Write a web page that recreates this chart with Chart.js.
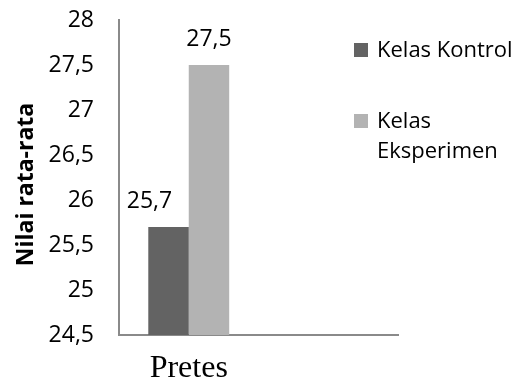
<!DOCTYPE html>
<html>
<head>
<meta charset="utf-8">
<script src="https://cdn.jsdelivr.net/npm/chart.js@4"></script>
<style>
  html, body { margin: 0; padding: 0; background: #fff; }
  canvas { display: block; }
</style>
</head>
<body>
<canvas id="c" width="521" height="385"></canvas>
<script>
// Category labels (the second slot is left empty)
const categories = ['Pretes', ''];
// Series
const seriesNames = ['Kelas Kontrol', 'Kelas Eksperimen'];
const kelasKontrol = [25.7, null];
const kelasEksperimen = [27.5, null];
// Value-axis ticks
const yTicks = [24.5, 25, 25.5, 26, 26.5, 27, 27.5, 28];
const yTitle = 'Nilai rata-rata';

const seriesColors = ['#636363', '#b3b3b3'];
const fmt = v => String(v).replace('.', ',');

// Value labels above each bar
const valueLabels = {
  id: 'valueLabels',
  afterDatasetsDraw(chart, args, opts) {
    const ctx = chart.ctx;
    ctx.save();
    ctx.font = '23px "Open Sans"';
    ctx.fillStyle = '#000';
    ctx.textAlign = 'center';
    ctx.textBaseline = 'alphabetic';
    chart.data.datasets.forEach((ds, di) => {
      const meta = chart.getDatasetMeta(di);
      meta.data.forEach((bar, i) => {
        const v = ds.data[i];
        if (v === null || v === undefined) return;
        const dx = (opts.offsets && opts.offsets[di]) || 0;
        ctx.fillText(fmt(v), bar.x + dx, bar.y - 19);
      });
    });
    ctx.restore();
  }
};

// Rotated value-axis title, centred on the plotted span
const axisTitle = {
  id: 'axisTitle',
  afterDraw(chart, args, opts) {
    const ctx = chart.ctx;
    const area = chart.chartArea;
    ctx.save();
    ctx.font = 'bold 23px "Open Sans"';
    ctx.fillStyle = '#000';
    ctx.textAlign = 'center';
    ctx.textBaseline = 'middle';
    ctx.translate(opts.x, (area.top + area.bottom) / 2 + opts.dy);
    ctx.rotate(-Math.PI / 2);
    ctx.fillText(opts.text, 0, 0);
    ctx.restore();
  }
};

// Legend on the right, with word wrapping
const sideLegend = {
  id: 'sideLegend',
  afterDraw(chart, args, opts) {
    const ctx = chart.ctx;
    ctx.save();
    ctx.font = '22px "Open Sans"';
    ctx.textAlign = 'left';
    ctx.textBaseline = 'alphabetic';
    let baseline = opts.top;
    chart.data.datasets.forEach((ds) => {
      const words = ds.label.split(' ');
      const lines = [];
      let cur = '';
      words.forEach(w => {
        const test = cur ? cur + ' ' + w : w;
        if (cur && ctx.measureText(test).width > opts.maxWidth) {
          lines.push(cur);
          cur = w;
        } else {
          cur = test;
        }
      });
      if (cur) lines.push(cur);
      ctx.fillStyle = ds.backgroundColor;
      ctx.fillRect(opts.boxX, baseline - opts.box, opts.box, opts.box);
      ctx.fillStyle = '#000';
      lines.forEach((ln, k) => {
        ctx.fillText(ln, opts.textX, baseline + k * opts.lineGap);
      });
      baseline += opts.itemGap;
    });
    ctx.restore();
  }
};

new Chart(document.getElementById('c'), {
  type: 'bar',
  data: {
    labels: categories,
    datasets: [
      { label: seriesNames[0], data: kelasKontrol, backgroundColor: seriesColors[0] },
      { label: seriesNames[1], data: kelasEksperimen, backgroundColor: seriesColors[1] }
    ]
  },
  options: {
    responsive: false,
    devicePixelRatio: 1,
    animation: false,
    layout: { padding: { left: 0, top: 20, right: 123, bottom: 0 } },
    datasets: {
      bar: { categoryPercentage: 0.58, barPercentage: 1.0, borderWidth: 0 }
    },
    plugins: {
      legend: { display: false },
      tooltip: { enabled: false },
      valueLabels: { offsets: [-19, 0] },
      axisTitle: { text: yTitle, x: 26, dy: 7 },
      sideLegend: { top: 57, box: 14, boxX: 354, textX: 377, lineGap: 30, itemGap: 71, maxWidth: 140 }
    },
    scales: {
      x: {
        grid: { display: false, drawTicks: false },
        border: { display: true, color: '#8a8a8a', width: 2 },
        ticks: {
          color: '#000',
          font: { family: '"Liberation Serif", "Times New Roman", serif', size: 32 },
          padding: 14,
          maxRotation: 0
        },
        afterFit(scale) { scale.height = 50; }
      },
      y: {
        min: yTicks[0],
        max: yTicks[yTicks.length - 1],
        grid: { display: false, drawTicks: false },
        border: { display: true, color: '#8a8a8a', width: 2 },
        afterBuildTicks(scale) { scale.ticks = yTicks.map(v => ({ value: v })); },
        ticks: {
          color: '#000',
          font: { family: '"Open Sans"', size: 23 },
          padding: 25,
          callback: v => fmt(v)
        },
        afterFit(scale) {
          scale.width = 119;
          // the tick gap should not push the plot area down
          scale.paddingTop = 0;
          scale.paddingBottom = 0;
        }
      }
    }
  },
  plugins: [valueLabels, axisTitle, sideLegend]
});
</script>
</body>
</html>
